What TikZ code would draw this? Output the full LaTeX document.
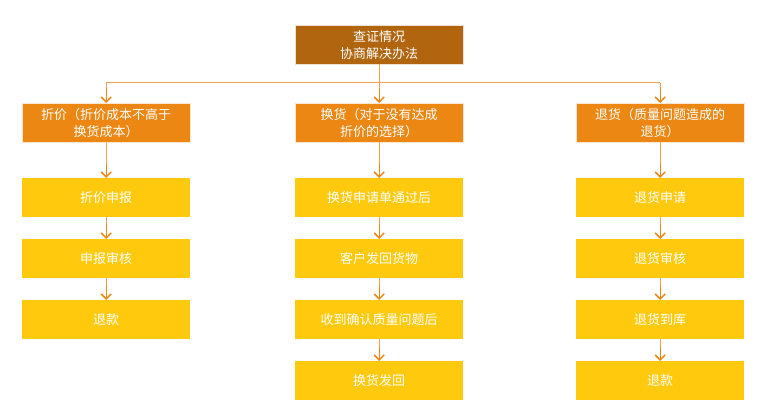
\documentclass[tikz,border=0pt]{standalone}
\usepackage{fontspec}
\newfontfamily\cjk{Noto Sans CJK SC}
\usetikzlibrary{arrows.meta}
\definecolor{topc}{HTML}{B0650E}
\definecolor{catc}{HTML}{EC8714}
\definecolor{yel}{HTML}{FFC90E}
\definecolor{lnc}{HTML}{F0A050}
\begin{document}
\begin{tikzpicture}[x=1pt,y=-1pt,
 box/.style={minimum width=168pt,minimum height=39pt,inner sep=0pt,text=white,font=\cjk\fontsize{13}{17}\selectfont,align=center,anchor=north west},
 topbox/.style={box,fill=topc,draw=white!80!topc},
 cat/.style={box,fill=catc,draw=white!80!catc},
 yb/.style={box,fill=yel},
 ar/.style={draw=catc,line width=1.2pt,-{Straight Barb[length=5pt,width=10pt,line width=1.5pt]}},
 ln/.style={draw=lnc,line width=1pt}]
\useasboundingbox (0,0) rectangle (764,406);
\node[topbox] (t) at (295,25) {查证情况\\协商解决办法};
\node[cat] (c1) at (22,103) {折价（折价成本不高于\\换货成本）};
\node[cat] (c2) at (295,103) {换货（对于没有达成\\折价的选择）};
\node[cat] (c3) at (576,103) {退货（质量问题造成的\\退货）};
\node[yb] (a1) at (22,178) {折价申报};
\node[yb] (a2) at (22,239) {申报审核};
\node[yb] (a3) at (22,300) {退款};
\node[yb] (b1) at (295,178) {换货申请单通过后};
\node[yb] (b2) at (295,239) {客户发回货物};
\node[yb] (b3) at (295,300) {收到确认质量问题后};
\node[yb] (b4) at (295,361) {换货发回};
\node[yb] (d1) at (576,178) {退货申请};
\node[yb] (d2) at (576,239) {退货审核};
\node[yb] (d3) at (576,300) {退货到库};
\node[yb] (d4) at (576,361) {退款};
\coordinate (h) at (0,83);
\draw[ln] (t.south) -- (t.south|-h);
\draw[ln] (c1.north|-h) -- (c3.north|-h);
\foreach \c in {c1,c2,c3} \draw[ln] (\c.north|-h) -- ([yshift=8pt]\c.north);
\foreach \a/\b in {c1/a1,a1/a2,a2/a3,c2/b1,b1/b2,b2/b3,b3/b4,c3/d1,d1/d2,d2/d3,d3/d4}{
 \draw[ln] (\a.south) -- ([yshift=8pt]\b.north);
 \draw[ar] ([yshift=14pt]\b.north) -- (\b.north);}
\foreach \c in {c1,c2,c3} \draw[ar] ([yshift=14pt]\c.north) -- (\c.north);
\end{tikzpicture}
\end{document}
